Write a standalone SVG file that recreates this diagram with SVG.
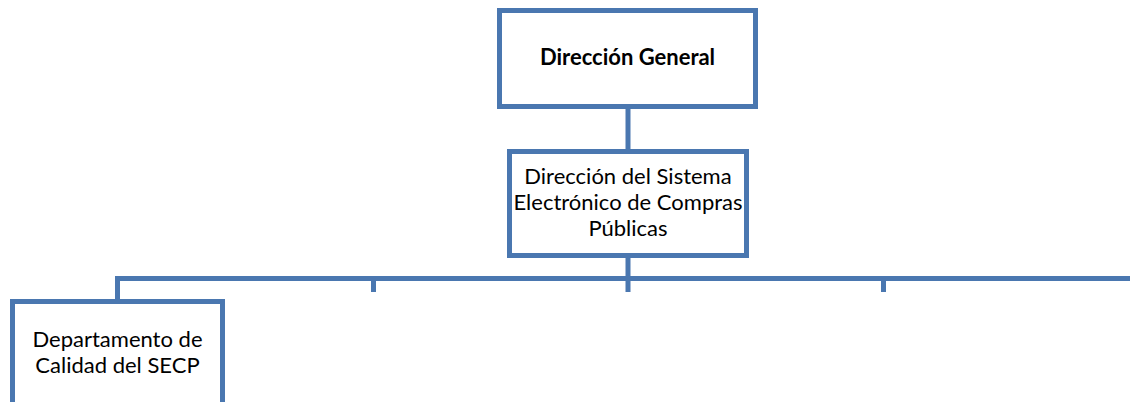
<svg xmlns="http://www.w3.org/2000/svg" width="1130" height="402" viewBox="0 0 1130 402">
<style>
.box{fill:#ffffff;stroke:#4a77b0;stroke-width:5}
.ln{fill:none;stroke:#4a77b0;stroke-width:5}
text{font-family:Lato,"Liberation Sans",sans-serif;font-size:22px;fill:#000;text-anchor:middle}
.b{font-weight:bold}
</style>
<rect width="1130" height="402" fill="#ffffff"/>
<g id="connectors">
<line class="ln" x1="628" y1="106" x2="628" y2="151"/>
<line class="ln" x1="628" y1="255" x2="628" y2="292"/>
<polyline class="ln" points="117.5,301 117.5,278.5 1130,278.5"/>
<line class="ln" x1="373.5" y1="278.5" x2="373.5" y2="292"/>
<line class="ln" x1="883.5" y1="278.5" x2="883.5" y2="292"/>
</g>
<g id="dg">
<rect class="box" x="499.5" y="10.5" width="256" height="96"/>
<text class="b" x="627.5" y="65">Dirección General</text>
</g>
<g id="dsecp">
<rect class="box" x="509.5" y="151.5" width="237" height="104"/>
<text x="628" y="184">Dirección del Sistema</text>
<text x="628" y="210">Electrónico de Compras</text>
<text x="628" y="236">Públicas</text>
</g>
<g id="calidad">
<rect class="box" x="12.5" y="301.5" width="210" height="120"/>
<text x="117.5" y="347">Departamento de</text>
<text x="117.5" y="373">Calidad del SECP</text>
</g>
</svg>
